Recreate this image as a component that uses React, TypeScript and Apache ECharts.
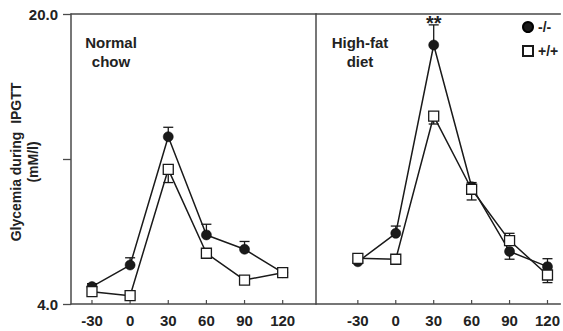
import React, { useEffect, useRef } from "react";
import * as echarts from "echarts";

// Time points (min)
const timePoints = [-30, 0, 30, 60, 90, 120];
const xTickLabels = [-30, 0, 30, 60, 90, 120];

// Normal chow panel
const chowKO = [4.96, 6.15, 13.23, 7.81, 7.02, 5.73];
const chowWT = [4.68, 4.46, 11.43, 6.8, 5.32, 5.73];
const chowKOErrEnd = [5.12, 6.55, 13.75, 8.4, 7.45, 5.95];
const chowWTErrEnd = [null, null, 10.7, 6.6, null, null];

// High-fat diet panel
const hfdKO = [6.33, 7.9, 18.29, 10.47, 6.9, 6.06];
const hfdWT = [6.52, 6.47, 14.37, 10.33, 7.5, 5.6];
const hfdKOErrEnd = [null, 8.3, 19.4, 10.7, 6.47, 6.5];
const hfdWTErrEnd = [null, null, 13.93, 9.74, 7.9, 5.18];

// Significance marker
const sigTime = 30;
const sigValue = 19.72;
const sigText = "**";

const yTicks = [4, 12, 20];

const FONT = "Liberation Sans";
const AXIS_COLOR = "#4a4a4a";
const INK = "#1a1a1a";
const FS = 15;

function pairs(vals: (number | null)[]) {
  return timePoints.map((t, i) => [t, vals[i]]);
}

function errData(vals: number[], ends: (number | null)[]) {
  const out: number[][] = [];
  timePoints.forEach((t, i) => {
    const e = ends[i];
    if (e !== null && e !== undefined) out.push([t, vals[i], e]);
  });
  return out;
}

function errRender(params: any, api: any) {
  const x = api.value(0);
  const y = api.value(1);
  const e = api.value(2);
  const p0 = api.coord([x, y]);
  const p1 = api.coord([x, e]);
  const hw = 5;
  return {
    type: "group",
    children: [
      {
        type: "line",
        shape: { x1: p0[0], y1: p0[1], x2: p1[0], y2: p1[1] },
        style: { stroke: INK, lineWidth: 1.3 },
      },
      {
        type: "line",
        shape: { x1: p1[0] - hw, y1: p1[1], x2: p1[0] + hw, y2: p1[1] },
        style: { stroke: INK, lineWidth: 1.3 },
      },
    ],
  };
}

// small inward x-axis tick marks at each time point
function tickRender(params: any, api: any) {
  const p = api.coord([api.value(0), api.value(1)]);
  return {
    type: "line",
    shape: { x1: p[0], y1: p[1], x2: p[0], y2: p[1] - 4 },
    style: { stroke: AXIS_COLOR, lineWidth: 1.2 },
  };
}

export default function App() {
  const ref = useRef<HTMLDivElement>(null);

  useEffect(() => {
    if (!ref.current) return;
    const chart = echarts.init(ref.current, undefined, { renderer: "svg" });

    const labelStyle = {
      fontFamily: FONT,
      fontWeight: "bold",
      fontSize: FS,
      color: "#222",
    };

    const baseX = (gridIndex: number, min: number, max: number) => ({
      gridIndex,
      type: "value",
      min,
      max,
      position: "bottom",
      axisLine: { show: true, onZero: false, lineStyle: { color: AXIS_COLOR, width: 1.5 } },
      axisTick: { show: false },
      splitLine: { show: false },
      axisLabel: {
        customValues: xTickLabels,
        ...labelStyle,
        margin: 9,
      },
    });
    const topX = (gridIndex: number, min: number, max: number) => ({
      gridIndex,
      type: "value",
      min,
      max,
      position: "top",
      axisLine: { show: true, onZero: false, lineStyle: { color: AXIS_COLOR, width: 1.5 } },
      axisTick: { show: false },
      axisLabel: { show: false },
      splitLine: { show: false },
    });

    const lineSeries = (
      name: string,
      idx: number,
      vals: number[],
      filled: boolean
    ) => ({
      name,
      type: "line",
      xAxisIndex: idx * 2,
      yAxisIndex: idx === 0 ? 0 : 2,
      data: pairs(vals),
      symbol: filled ? "circle" : "rect",
      symbolSize: 10,
      showSymbol: true,
      z: filled ? 4 : 5,
      lineStyle: { color: INK, width: 1.5 },
      itemStyle: filled
        ? { color: "#1a1a1a", borderColor: "#000", borderWidth: 0.5 }
        : { color: "#ffffff", borderColor: INK, borderWidth: 1.3 },
    });

    const errSeries = (idx: number, vals: number[], ends: (number | null)[]) => ({
      type: "custom",
      xAxisIndex: idx * 2,
      yAxisIndex: idx === 0 ? 0 : 2,
      data: errData(vals, ends),
      renderItem: errRender,
      z: 2,
      silent: true,
    });

    const tickSeries = (idx: number) => ({
      type: "custom",
      xAxisIndex: idx * 2,
      yAxisIndex: idx === 0 ? 0 : 2,
      data: xTickLabels.map((t) => [t, yTicks[0]]),
      renderItem: tickRender,
      z: 1,
      silent: true,
      clip: false,
    });

    chart.setOption({
      animation: false,
      backgroundColor: "#ffffff",
      grid: [
        { left: 71, top: 14, width: 245, height: 290 },
        { left: 316, top: 14, width: 247, height: 290 },
      ],
      xAxis: [
        baseX(0, -46.5, 146.2),
        topX(0, -46.5, 146.2),
        baseX(1, -63.1, 130.2),
        topX(1, -63.1, 130.2),
      ],
      yAxis: [
        {
          gridIndex: 0,
          type: "value",
          min: 4,
          max: 20,
          interval: 8,
          position: "left",
          axisLine: { show: true, onZero: false, lineStyle: { color: AXIS_COLOR, width: 1.5 } },
          axisTick: { show: true, length: 8, lineStyle: { color: AXIS_COLOR, width: 1.3 } },
          splitLine: { show: false },
          axisLabel: {
            ...labelStyle,
            margin: 13,
            formatter: (v: number) =>
              v === yTicks[0] || v === yTicks[2] ? v.toFixed(1) : "",
          },
        },
        {
          gridIndex: 0,
          type: "value",
          min: 4,
          max: 20,
          position: "right",
          axisLine: { show: true, onZero: false, lineStyle: { color: AXIS_COLOR, width: 1.5 } },
          axisTick: { show: false },
          axisLabel: { show: false },
          splitLine: { show: false },
        },
        {
          gridIndex: 1,
          type: "value",
          min: 4,
          max: 20,
          show: false,
          axisLine: { onZero: false },
          splitLine: { show: false },
        },
      ],
      legend: {
        orient: "vertical",
        left: 522,
        top: 20,
        itemWidth: 10,
        itemHeight: 10,
        itemGap: 10,
        padding: 0,
        textStyle: { ...labelStyle, fontSize: FS - 1 },
        data: [
          { name: "-/-", icon: "circle" },
          { name: "+/+", icon: "rect" },
        ],
      },
      graphic: [
        {
          type: "text",
          x: 24,
          y: 162,
          rotation: Math.PI / 2,
          style: {
            text: "Glycemia during  IPGTT\n(mM/l)",
            fontFamily: FONT,
            fontWeight: "bold",
            fontSize: 14,
            fill: "#222",
            align: "center",
            verticalAlign: "middle",
            lineHeight: 17,
          },
        },
        {
          type: "text",
          x: 111,
          y: 52,
          style: {
            text: "Normal\nchow",
            fontFamily: FONT,
            fontWeight: "bold",
            fontSize: FS,
            fill: "#222",
            align: "center",
            verticalAlign: "middle",
            lineHeight: 19,
          },
        },
        {
          type: "text",
          x: 360,
          y: 52,
          style: {
            text: "High-fat\ndiet",
            fontFamily: FONT,
            fontWeight: "bold",
            fontSize: FS,
            fill: "#222",
            align: "center",
            verticalAlign: "middle",
            lineHeight: 19,
          },
        },
      ],
      series: [
        tickSeries(0),
        tickSeries(1),
        errSeries(0, chowKO, chowKOErrEnd),
        errSeries(0, chowWT, chowWTErrEnd),
        lineSeries("-/-", 0, chowKO, true),
        lineSeries("+/+", 0, chowWT, false),
        errSeries(1, hfdKO, hfdKOErrEnd),
        errSeries(1, hfdWT, hfdWTErrEnd),
        {
          ...lineSeries("-/-", 1, hfdKO, true),
          markPoint: {
            symbol: "circle",
            symbolSize: 0,
            data: [
              {
                coord: [sigTime, sigValue],
                label: {
                  show: true,
                  formatter: sigText,
                  fontFamily: FONT,
                  fontWeight: "bold",
                  fontSize: 20,
                  color: "#222",
                  position: "inside",
                  offset: [0, 4],
                },
              },
            ],
          },
        },
        lineSeries("+/+", 1, hfdWT, false),
      ],
    });

    return () => chart.dispose();
  }, []);

  return (
    <div
      ref={ref}
      style={{ position: "fixed", left: 0, top: 0, width: 563, height: 331, background: "#fff" }}
    />
  );
}
